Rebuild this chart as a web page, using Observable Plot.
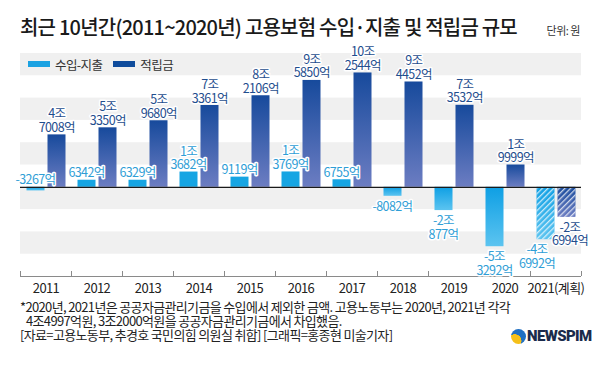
<!DOCTYPE html>
<html><head><meta charset="utf-8">
<script src="https://cdn.jsdelivr.net/npm/d3@7"></script>
<script src="https://cdn.jsdelivr.net/npm/@observablehq/plot@0.6"></script>
<style>
body{margin:0;background:#fff;}
#wrap{position:relative;width:600px;height:372px;overflow:hidden;font-family:"Noto Sans CJK KR","Noto Sans",sans-serif;color:#222;}
#chart{position:absolute;left:0;top:0;}
.abs{position:absolute;white-space:nowrap;}
#title{left:20px;top:17px;font-size:20px;line-height:20px;font-weight:500;letter-spacing:-0.5px;color:#1a1a1a;}
#unit{right:20px;top:25px;font-size:11px;line-height:11px;letter-spacing:-0.5px;color:#333;}
#legend{left:28px;top:57px;height:14px;display:flex;align-items:center;font-size:12.5px;letter-spacing:-0.6px;color:#333;}
#legend .sw{display:inline-block;width:22px;height:6px;margin-right:5px;}
#foot{left:20px;top:300px;font-size:13px;line-height:14px;letter-spacing:-0.4px;color:#222;}
#foot div{white-space:nowrap;}
#logo{left:511px;top:327px;display:flex;align-items:center;font-family:"Roboto","Liberation Sans",sans-serif;font-weight:900;font-size:15px;letter-spacing:-0.6px;color:#1b2b4b;}
#logo .c{width:15px;height:15px;border-radius:50%;margin-right:1px;background:radial-gradient(circle at 25% 80%,#f5c01a 0 40%,#1f6fc2 42%);}
</style></head>
<body><div id="wrap">
<div id="chart"></div>
<div id="title" class="abs">최근 10년간(2011~2020년) 고용보험 수입·지출 및 적립금 규모</div>
<div id="unit" class="abs">단위: 원</div>
<div id="legend" class="abs"><span class="sw" style="background:#1ba2e2"></span><span style="margin-right:11px">수입-지출</span><span class="sw" style="background:#0f4c9c"></span><span>적립금</span></div>
<div id="foot" class="abs">
<div><span id="foot1">*2020년, 2021년은 공공자금관리기금을 수입에서 제외한 금액. 고용노동부는 2020년, 2021년 각각</span></div>
<div style="padding-left:6px">4조4997억원, 3조2000억원을 공공자금관리기금에서 차입했음.</div>
<div>[자료=고용노동부, 추경호 국민의힘 의원실 취합] [그래픽=홍종현 미술기자]</div>
</div>
<div id="logo" class="abs"><span class="c"></span>NEWSPIM</div>
</div>
<script>
// ---- data (unit: 억원) ----
const years = ["2011","2012","2013","2014","2015","2016","2017","2018","2019","2020","2021(계획)"];
const netFlow = [-3267, 6342, 6329, 13682, 9119, 13769, 6755, -8082, -20877, -53292, -46992]; // 수입-지출
const reserve = [47008, 53350, 59680, 73361, 82106, 95850, 102544, 94452, 73532, 19999, -26994]; // 적립금
const planYear = "2021(계획)";
const yDomain = [-80000, 120000];
const bandStripes = [[100000,120000],[60000,80000],[20000,40000],[0,-20000],[-40000,-60000]];

// fit text blocks to the reference widths via letter-spacing
function fitWidth(el, target, base, applyTo){
  const w = el.getBoundingClientRect().width;
  const n = el.textContent.length;
  (applyTo || el).style.letterSpacing = (base + (target - w) / n) + "px";
}
fitWidth(document.getElementById("title"), 497, -0.5);
fitWidth(document.getElementById("foot1"), 490, -0.4, document.getElementById("foot"));

function fmt(v){
  const s = v < 0 ? "-" : "";
  const a = Math.abs(v), jo = Math.floor(a/10000), eok = a % 10000;
  return jo ? `${s}${jo}조\n${eok}억` : `${s}${eok}억`;
}
const netData = years.map((year,i)=>({year, value: netFlow[i], label: fmt(netFlow[i])}));
const resData = years.map((year,i)=>({year, value: reserve[i], label: fmt(reserve[i])}));

const LIGHT = "#16a5e3", LIGHTTXT = "#2f9ed6", DARKTXT = "#1f4e8e";
const lightBar = {insetLeft: 6.5, insetRight: 26.5};
const darkBar = {insetLeft: 27.5, insetRight: 5.5};
const txt = {text: "label", fontSize: 12.5, lineHeight: 1.08, stroke: "white", strokeWidth: 3, paintOrder: "stroke"};
const smallNeg = d => d.value < 0 && d.value > -5000;
const notPlan = d => d.year !== planYear;

const chart = Plot.plot({
  width: 600, height: 372,
  marginTop: 53, marginBottom: 96, marginLeft: 20, marginRight: 19,
  x: {type: "band", domain: years, padding: 0, tickSize: 0, tickPadding: 7, label: null},
  y: {domain: yDomain, axis: null},
  style: {background: "transparent", fontFamily: "'Noto Sans CJK KR', sans-serif", fontSize: "13px", color: "#222", letterSpacing: "-0.6px"},
  marks: [
    Plot.rect(bandStripes, {y1: d => d[0], y2: d => d[1], fill: "#f0f0f0"}),
    // 수입-지출 bars
    Plot.barY(netData.filter(d => d.value >= 0), {x: "year", y: "value", fill: LIGHT, ...lightBar}),
    Plot.barY(netData.filter(d => d.value < 0), {x: "year", y: "value", fill: "url(#gLightNeg)", ...lightBar}),
    // 적립금 bars
    Plot.barY(resData, {x: "year", y: "value", fill: "url(#gDark)", ...darkBar}),
    // plan-year hatch overlays
    Plot.barY(netData.filter(d => d.year === planYear), {x: "year", y: "value", fill: "url(#hatch)", ...lightBar}),
    Plot.barY(resData.filter(d => d.year === planYear), {x: "year", y: "value", fill: "url(#hatch)", ...darkBar}),
    // axis line, zero line, boundary ticks
    Plot.ruleY([yDomain[0]], {stroke: "#8a8a8a"}),
    Plot.ruleY([0], {stroke: "#1a1a1a", strokeWidth: 1.2}),
    Plot.ruleX(years, {x: d => d, y1: yDomain[0], y2: yDomain[0], insetTop: -5, dx: -25.5, stroke: "#8a8a8a"}),
    Plot.ruleX([planYear], {x: d => d, y1: yDomain[0], y2: yDomain[0], insetTop: -5, dx: 25.5, stroke: "#8a8a8a"}),
    // 수입-지출 labels
    Plot.text(netData.filter(d => d.value >= 0), {x: "year", y: "value", ...txt, fill: LIGHTTXT, lineAnchor: "bottom", dy: -3, dx: -10.5}),
    Plot.text(netData.filter(smallNeg), {x: "year", y: 0, ...txt, fill: LIGHTTXT, lineAnchor: "bottom", dy: -3, dx: -10.5}),
    Plot.text(netData.filter(d => d.value <= -5000 && notPlan(d)), {x: "year", y: "value", ...txt, fill: LIGHTTXT, lineAnchor: "top", dy: 5, dx: -10.5}),
    Plot.text(netData.filter(d => !notPlan(d)), {x: "year", y: "value", ...txt, fill: LIGHTTXT, lineAnchor: "top", dy: 5, dx: -19}),
    // 적립금 labels
    Plot.text(resData.filter(d => d.value >= 0), {x: "year", y: "value", ...txt, fill: DARKTXT, lineAnchor: "bottom", dy: -3, dx: 10.8}),
    Plot.text(resData.filter(d => d.value < 0), {x: "year", y: "value", ...txt, fill: DARKTXT, lineAnchor: "top", dy: 5, dx: 14})
  ]
});

const ns = "http://www.w3.org/2000/svg";
const defs = document.createElementNS(ns, "defs");
defs.innerHTML = `
<linearGradient id="gDark" x1="0" y1="0" x2="0" y2="1">
  <stop offset="0" stop-color="#174a9c"/><stop offset="1" stop-color="#6c7dc2"/>
</linearGradient>
<linearGradient id="gLightNeg" x1="0" y1="0" x2="0" y2="1">
  <stop offset="0" stop-color="#0e9fe4"/><stop offset="1" stop-color="#5cc4f0"/>
</linearGradient>
<pattern id="hatch" patternUnits="userSpaceOnUse" width="4" height="4" patternTransform="rotate(45)">
  <rect x="0" y="0" width="1.3" height="4" fill="white" fill-opacity="0.75"/>
</pattern>`;
chart.insertBefore(defs, chart.firstChild);
document.getElementById("chart").appendChild(chart);
</script>
</body></html>
